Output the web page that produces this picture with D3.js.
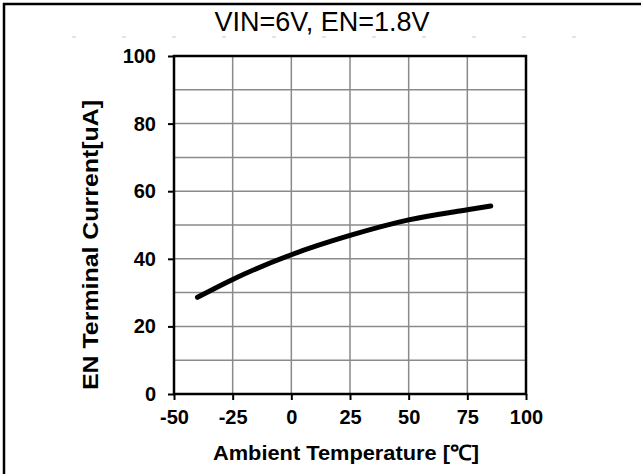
<!DOCTYPE html>
<html><head><meta charset="utf-8">
<script src="https://cdn.jsdelivr.net/npm/d3@7"></script>
<style>body{margin:0;background:#fff}svg{display:block}</style>
</head><body>
<script>
const title = "VIN=6V, EN=1.8V";
const xLabel = "Ambient Temperature [\u2103]";
const yLabel = "EN Terminal Current[uA]";
const temperature = [-40, -25, 0, 25, 50, 75, 85];
const current = [28.6, 33.9, 41.2, 46.9, 51.5, 54.5, 55.6];
const xTicks = [-50, -25, 0, 25, 50, 75, 100];
const yTicks = [0, 20, 40, 60, 80, 100];
const yGrid = [10, 20, 30, 40, 50, 60, 70, 80, 90];

const W = 641, H = 474;
const svg = d3.select("body").append("svg").attr("width", W).attr("height", H);
const font = "'Liberation Sans', Arial, sans-serif";

const x = d3.scaleLinear().domain([-50, 100]).range([174, 526]);
const y = d3.scaleLinear().domain([0, 100]).range([394, 56]);

// outer frame (top + left)
svg.append("line").attr("x1", 3).attr("x2", W).attr("y1", 4).attr("y2", 4).attr("stroke", "#000").attr("stroke-width", 2.5);
svg.append("line").attr("x1", 4).attr("x2", 4).attr("y1", 3).attr("y2", H).attr("stroke", "#000").attr("stroke-width", 2.5);

// faint dashes
svg.append("line").attr("x1", 72).attr("x2", 580).attr("y1", 37).attr("y2", 37)
  .attr("stroke", "#c8c8c8").attr("stroke-width", 1).attr("stroke-dasharray", "4 46");

// title
svg.append("text").attr("x", 322).attr("y", 31).attr("text-anchor", "middle")
  .attr("font-family", font).attr("font-size", 27).attr("fill", "#000").text(title);

// grid
const g = svg.append("g");
g.selectAll(".vg").data(xTicks.slice(1, -1)).join("line")
  .attr("x1", d => x(d)).attr("x2", d => x(d)).attr("y1", y(100)).attr("y2", y(0))
  .attr("stroke", "#8a8a8a").attr("stroke-width", 1.5);
g.selectAll(".hg").data(yGrid).join("line")
  .attr("x1", x(-50)).attr("x2", x(100)).attr("y1", d => y(d)).attr("y2", d => y(d))
  .attr("stroke", "#8a8a8a").attr("stroke-width", 1.5);

// axes
const fmt = d => String(d);
const xAxis = d3.axisBottom(x).tickValues(xTicks).tickSize(6).tickPadding(10).tickFormat(fmt);
const yAxis = d3.axisLeft(y).tickValues(yTicks).tickSize(6).tickPadding(12).tickFormat(fmt);
const gx = svg.append("g").attr("transform", `translate(0,${y(0)})`).call(xAxis);
const gy = svg.append("g").attr("transform", `translate(${x(-50)},0)`).call(yAxis);
[gx, gy].forEach(a => {
  a.select(".domain").remove();
  a.selectAll(".tick line").attr("stroke", "#000").attr("stroke-width", 2);
  a.selectAll(".tick text").attr("font-family", font).attr("font-size", 20)
    .attr("font-weight", "bold").attr("fill", "#000");
});
gx.selectAll(".tick text").attr("dy", "0.71em");

// plot border
svg.append("rect").attr("x", x(-50)).attr("y", y(100)).attr("width", x(100) - x(-50)).attr("height", y(0) - y(100))
  .attr("fill", "none").attr("stroke", "#000").attr("stroke-width", 2.5);

// curve
const line = d3.line().x((d, i) => x(temperature[i])).y(d => y(d)).curve(d3.curveMonotoneX);
svg.append("path").datum(current).attr("d", line).attr("fill", "none")
  .attr("stroke", "#000").attr("stroke-width", 5).attr("stroke-linecap", "round");

// axis labels
svg.append("text").attr("x", 346).attr("y", 460).attr("text-anchor", "middle")
  .attr("font-family", font).attr("font-size", 21).attr("font-weight", "bold")
  .attr("textLength", 266).attr("lengthAdjust", "spacingAndGlyphs").text(xLabel);
svg.append("text").attr("transform", "translate(98,245) rotate(-90)").attr("text-anchor", "middle")
  .attr("font-family", font).attr("font-size", 22).attr("font-weight", "bold")
  .attr("textLength", 290).attr("lengthAdjust", "spacingAndGlyphs").text(yLabel);
</script>
</body></html>
